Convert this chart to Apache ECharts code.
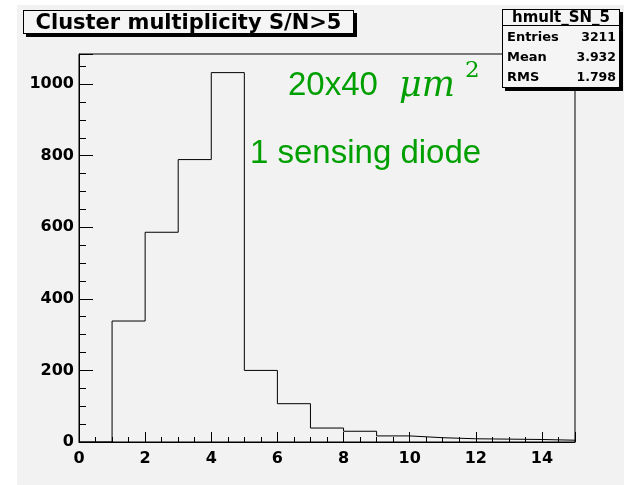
<!DOCTYPE html>
<html>
<head>
<meta charset="utf-8">
<script src="https://cdn.jsdelivr.net/npm/echarts@6/dist/echarts.min.js"></script>
<style>
  html, body { margin: 0; padding: 0; background: #fff; }
  .wrap { position: relative; width: 624px; height: 485px; overflow: hidden; }
  .pad { position: absolute; left: 17px; top: 5px; width: 607px; height: 480px; background: #f2f2f2; }
  #chart { position: absolute; left: 0; top: 0; width: 624px; height: 485px; }
  .pave {
    position: absolute;
    background: #f5f5f5;
    border: 1px solid #000;
    box-shadow: 3px 3px 0 #000;
    box-sizing: border-box;
    font-family: 'DejaVu Sans', sans-serif;
    font-weight: bold;
    color: #000;
  }
  .title { left: 23px; top: 10px; width: 331px; height: 24px; font-size: 21px; line-height: 22px; text-align: center; }
  .stats { left: 502px; top: 9px; width: 118px; height: 79px; }
  .stats .head { position: absolute; left: 0; top: 0; width: 100%; height: 15px; border-bottom: 1px solid #000; font-size: 15px; line-height: 15px; text-align: center; }
  .stats .row { position: absolute; left: 4px; right: 3px; height: 20px; line-height: 20px; }
  .stats .row .n { position: absolute; left: 0; font-size: 13px; }
  .stats .row .v { position: absolute; right: 0; font-size: 12.5px; }
  .latex { position: absolute; color: #009f00; white-space: nowrap; }
</style>
</head>
<body>
<div class="wrap">
  <div class="pad"></div>
  <div id="chart"></div>
  <div class="pave title">Cluster multiplicity S/N&gt;5</div>
  <div class="pave stats" id="stats"><div class="head">hmult_SN_5</div></div>
  <div class="latex" style="left:288px; top:67px; font:33px/33px 'Liberation Sans';">20x40</div>
  <div class="latex" style="left:399px; top:67px; font:italic 35px/35px 'DejaVu Serif';">μm</div>
  <div class="latex" style="left:465px; top:58px; font:23px/23px 'DejaVu Serif';">2</div>
  <div class="latex" style="left:250px; top:135px; font:33px/33px 'Liberation Sans';">1 sensing diode</div>
</div>
<script>
// hmult_SN_5 : bins of width 1, low edges below
const binLow = [0, 1, 2, 3, 4, 5, 6, 7, 8, 9, 10, 11, 12, 13, 14]
const counts = [0, 338, 586, 789, 1032, 200, 107, 39, 30, 17, 12, 9, 8, 7, 5]
const xLabels = [0, 2, 4, 6, 8, 10, 12, 14]
const yLabels = [0, 200, 400, 600, 800, 1000]
const statNames = ['Entries', 'Mean', 'RMS']
const statValues = ['3211', '3.932', '1.798']
const xMax = 15
const yMax = 1084

const bold = 'DejaVu Sans'

// stats rows
const stats = document.getElementById('stats')
statNames.forEach((name, i) => {
  const row = document.createElement('div')
  row.className = 'row'
  row.style.top = 17 + i * 20 + 'px'
  row.innerHTML = `<span class="n">${name}</span><span class="v">${statValues[i]}</span>`
  stats.appendChild(row)
})

const chart = echarts.init(document.getElementById('chart'))

// step outline like ROOT draws a TH1
const steps = binLow.map((x, i) => [x, counts[i]])
steps.push([binLow[binLow.length - 1] + 1, counts[counts.length - 1]])

const option = {
  backgroundColor: 'transparent',
  animation: false,
  grid: {
    left: 79,
    right: 49,
    top: 54,
    bottom: 43,
    show: true,
    backgroundColor: 'transparent',
    borderColor: '#000',
    borderWidth: 1,
  },
  xAxis: {
    type: 'value',
    min: xLabels[0],
    max: xMax,
    interval: xLabels[1] - xLabels[0],
    axisLine: { show: true, onZero: false, lineStyle: { color: '#000' } },
    axisTick: { show: true, inside: true, length: 10, lineStyle: { color: '#000', width: 1 } },
    minorTick: { show: true, splitNumber: 4, length: 5, lineStyle: { color: '#000', width: 1 } },
    axisLabel: {
      color: '#000',
      fontFamily: bold,
      fontWeight: 'bold',
      fontSize: 16,
      margin: 9,
      showMaxLabel: false,
      formatter: v => String(v),
    },
    splitLine: { show: false },
  },
  yAxis: {
    type: 'value',
    min: yLabels[0],
    max: yMax,
    interval: yLabels[1] - yLabels[0],
    axisLine: { show: true, onZero: false, lineStyle: { color: '#000' } },
    axisTick: { show: true, inside: true, length: 14, lineStyle: { color: '#000', width: 1 } },
    minorTick: { show: true, splitNumber: 4, length: 7, lineStyle: { color: '#000', width: 1 } },
    axisLabel: {
      color: '#000',
      fontFamily: bold,
      fontWeight: 'bold',
      fontSize: 16,
      margin: 5,
      showMaxLabel: false,
      formatter: v => String(v),
    },
    splitLine: { show: false },
  },
  series: [
    {
      type: 'line',
      step: 'end',
      symbol: 'none',
      lineStyle: { color: '#000', width: 1 },
      data: steps,
    },
  ],
}

chart.setOption(option)
window.addEventListener('resize', () => chart.resize())
</script>
</body>
</html>
